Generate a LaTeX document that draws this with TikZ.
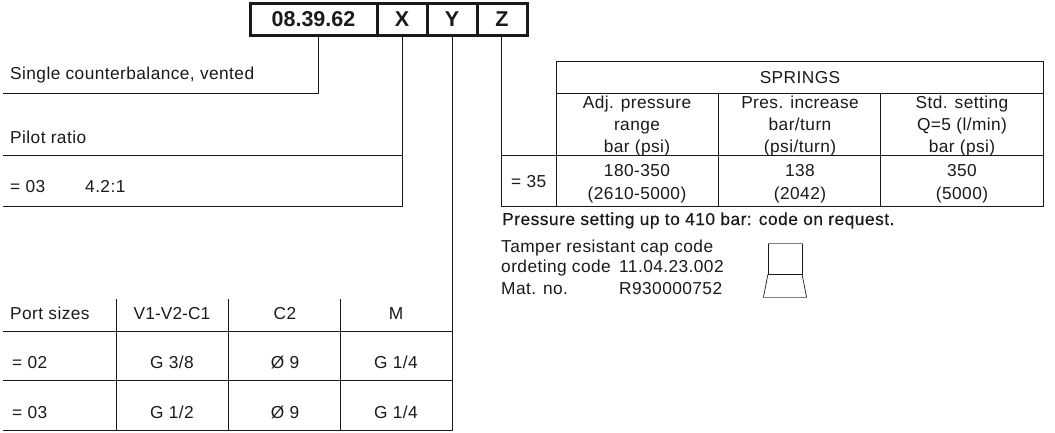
\documentclass[tikz,border=0pt]{standalone}
\usepackage{fontspec}
\setmainfont{Liberation Sans}
\newfontfamily\lbl[LetterSpace=2.5]{Liberation Sans}
\newfontfamily\lbltight[LetterSpace=0.5]{Liberation Sans}
\newfontfamily\lblm[LetterSpace=3.0,FakeBold=0.25]{Liberation Sans}
\definecolor{ink}{HTML}{1A1A1A}
\tikzset{
  px/.style={x=1pt,y=-1pt},
  codebox/.style={draw=ink,line width=3pt,minimum height=32pt,inner sep=0pt},
  codetxt/.style={anchor=base,inner sep=0pt,text=ink,font=\fontsize{21.5}{24}\selectfont\bfseries},
  rule/.style={draw=ink,line width=1pt},
  txt/.style={anchor=base west,inner sep=0pt,text=ink,font=\fontsize{17.3}{20}\lbl},
  ctr/.style={anchor=base,inner sep=0pt,text=ink,font=\fontsize{17.3}{20}\lbl},
  strong/.style={anchor=base west,inner sep=0pt,text=ink,font=\fontsize{17.3}{20}\lblm},
  capthin/.style={draw=ink,line width=0.7pt},
  capedge/.style={draw=gray,line width=1pt},
}
\begin{document}
\begin{tikzpicture}[px]
\useasboundingbox[fill=white] (0,0) rectangle (1055,433);
% code boxes
\node[codebox,minimum width=127pt] (code) at (313.5,19.5) {};
\node[codebox,minimum width=50pt] (bx) at (402,19.5) {};
\node[codebox,minimum width=50pt] (by) at (452,19.5) {};
\node[codebox,minimum width=50pt] (bz) at (502,19.5) {};
\node[codetxt] (codet) at (313.5,26.5) {08.39.62};
\node[codetxt] (xt) at (402,26.5) {X};
\node[codetxt] (yt) at (452,26.5) {Y};
\node[codetxt] (zt) at (502,26.5) {Z};
% free ends
\coordinate (a1) at (3,94);
\coordinate (a2) at (3,156);
\coordinate (a3) at (3,206);
\coordinate (p0) at (3,331);
\coordinate (p1) at (3,380);
\coordinate (p2) at (3,430);
\coordinate (yend) at (452,430);
\coordinate (xm) at (402,156);
\coordinate (xe) at (402,206);
\coordinate (ym1) at (452,331);
\coordinate (ym2) at (452,380);
\coordinate (zm) at (501,156);
\coordinate (ze) at (501,206);
\coordinate (tr) at (1043,156);
\coordinate (tb) at (1043,206);
% connectors
\draw[rule] (code.south -| 318,0) -- (318,94) -- (a1);
\draw[rule] (bx.south) -- (xe) -- (a3);
\draw[rule] (xm) -- (a2);
\draw[rule] (by.south) -- (yend) -- (p2);
\draw[rule] (ym1) -- (p0);
\draw[rule] (ym2) -- (p1);
\draw[rule] (bz.south -| zm) -- (ze) -- (tb) -- (1043,62) -- (556,62) -- (556,206);
\draw[rule] (zm) -- (tr);
\draw[rule] (556,93.5) -- (1043,93.5);
\draw[rule] (718,93.5) -- (718,206);
\draw[rule] (880,93.5) -- (880,206);
\draw[rule] (116.5,299) -- (116.5,430);
\draw[rule] (228.5,299) -- (228.5,430);
\draw[rule] (340.5,299) -- (340.5,430);
% left texts
\node[txt] (t1) at (10,80) {Single counterbalance, vented};
\node[txt] (t2) at (10,144) {Pilot ratio};
\node[txt] (t3) at (10,193) {= 03};
\node[txt] (t4) at (85,193) {4.2:1};
\node[txt] (t5) at (10,319) {Port sizes};
\node[ctr,font=\fontsize{17.3}{20}\lbltight] (h1) at (172,319) {V1-V2-C1};
\node[ctr] (h2) at (285,319) {C2};
\node[ctr] (h3) at (396,319) {M};
\node[txt] (r1) at (12,368) {= 02};
\node[ctr] (r11) at (172,368) {G 3/8};
\node[ctr] (r12) at (285,368) {Ø 9};
\node[ctr] (r13) at (396,368) {G 1/4};
\node[txt] (r2) at (12,418) {= 03};
\node[ctr] (r21) at (172,418) {G 1/2};
\node[ctr] (r22) at (285,418) {Ø 9};
\node[ctr] (r23) at (396,418) {G 1/4};
% springs table
\node[ctr] (s0) at (800,84) {SPRINGS};
\node[ctr] (s11) at (637,109) {Adj. pressure};
\node[ctr] (s12) at (637,131) {range};
\node[ctr] (s13) at (637,153) {bar (psi)};
\node[ctr] (s21) at (800,109) {Pres. increase};
\node[ctr] (s22) at (800,131) {bar/turn};
\node[ctr] (s23) at (800,153) {(psi/turn)};
\node[ctr] (s31) at (962,109) {Std. setting};
\node[ctr] (s32) at (962,131) {Q=5 (l/min)};
\node[ctr] (s33) at (962,153) {bar (psi)};
\node[txt] (s4) at (511,187) {= 35};
\node[ctr] (d11) at (637,176) {180-350};
\node[ctr] (d12) at (637,199) {(2610-5000)};
\node[ctr] (d21) at (800,176) {138};
\node[ctr] (d22) at (800,199) {(2042)};
\node[ctr] (d31) at (962,176) {350};
\node[ctr] (d32) at (962,199) {(5000)};
% notes
\node[strong] (n1) at (502,225) {Pressure setting up to 410 bar: code on request.};
\node[txt] (n2) at (501,252) {Tamper resistant cap code};
\node[txt] (n3) at (501,272) {ordeting code};
\node[txt] (n4) at (619,272) {11.04.23.002};
\node[txt] (n5) at (501,294) {Mat. no.};
\node[txt] (n6) at (619,294) {R930000752};
% cap
\draw[capthin] (768,243.5) -- (768,274) -- (802,274) -- (802,243.5);
\draw[capedge] (767.5,243.5) -- (802.5,243.5);
\draw[capthin] (768,274) -- (763.5,297) (802,274) -- (806.5,297);
\draw[capedge] (763,297) -- (807,297);
\end{tikzpicture}
\end{document}
